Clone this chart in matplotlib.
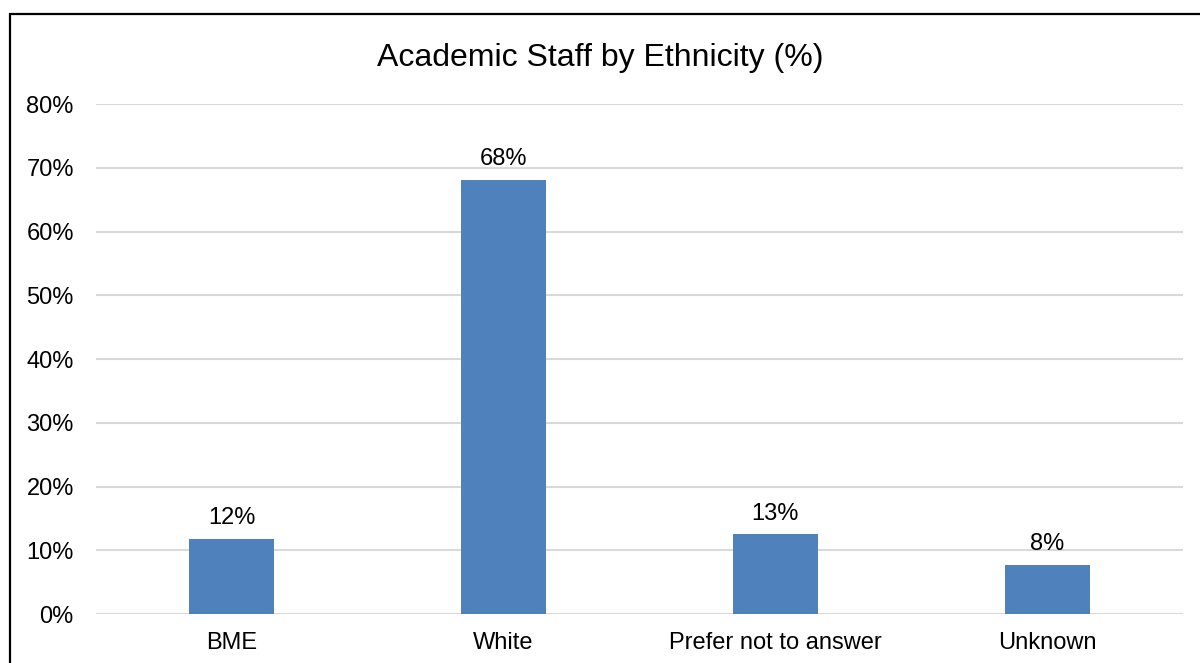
import matplotlib.pyplot as plt
from matplotlib.patches import Rectangle
from matplotlib.ticker import PercentFormatter

plt.rcParams['font.family'] = ['Liberation Sans', 'DejaVu Sans']

categories = ["BME", "White", "Prefer not to answer", "Unknown"]
values = [0.118, 0.681, 0.125, 0.077]
labels = ["12%", "68%", "13%", "8%"]

fig = plt.figure(figsize=(12, 6.63), dpi=100)
ax = fig.add_axes([0.08, 0.0739, 0.9058, 0.7692])

x = range(len(categories))
bars = ax.bar(x, values, width=0.313, color="#4f81bd", zorder=3)

for b, lab in zip(bars, labels):
    ax.annotate(lab, (b.get_x() + b.get_width() / 2, b.get_height()),
                xytext=(0, 7), textcoords="offset points",
                ha="center", va="bottom", fontsize=17, color="#000000")

ax.set_xlim(-0.5, len(categories) - 0.5)
ax.set_ylim(0, 0.8)
ax.set_yticks([i / 10 for i in range(9)])
ax.yaxis.set_major_formatter(PercentFormatter(1.0, decimals=0))
ax.set_xticks(list(x))
ax.set_xticklabels(categories)
ax.tick_params(axis="both", length=0, labelsize=17, colors="#000000")
ax.tick_params(axis="y", pad=16)
ax.tick_params(axis="x", pad=13)
ax.grid(axis="y", color="#d9d9d9", linewidth=1.5, zorder=0)
for s in ax.spines.values():
    s.set_visible(False)

fig.text(0.5, 0.913, "Academic Staff by Ethnicity (%)", ha="center", va="center",
         fontsize=23)

# outer chart border (cropped on right / bottom)
fig.patches.append(Rectangle((10 / 1200, -0.1), 1.2, 0.1 + (1 - 14 / 663),
                             transform=fig.transFigure, fill=False,
                             edgecolor="black", linewidth=1.6, clip_on=False))

fig.savefig("out.png", dpi=100, facecolor="white")
